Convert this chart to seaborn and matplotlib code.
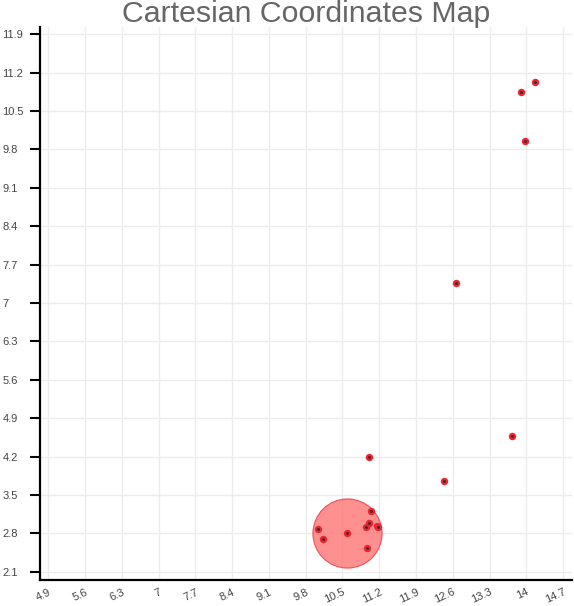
import matplotlib
matplotlib.use("Agg")
import matplotlib.pyplot as plt
import seaborn as sns
import pandas as pd

# points
xs = [14.17, 13.90, 13.98, 12.66, 11.00, 12.43, 13.72,
      11.05, 10.03, 10.12, 10.58, 10.94, 11.01, 11.15, 11.18, 10.97]
ys = [11.03, 10.85, 9.96, 7.37, 4.20, 3.76, 4.58,
      3.21, 2.88, 2.70, 2.81, 2.92, 2.98, 2.93, 2.91, 2.54]

# highlighted cluster centre
cluster_x = [10.58]
cluster_y = [2.81]

x_ticks = [4.9, 5.6, 6.3, 7.0, 7.7, 8.4, 9.1, 9.8, 10.5, 11.2, 11.9, 12.6, 13.3, 14.0, 14.7]
x_labels = ["4.9", "5.6", "6.3", "7", "7.7", "8.4", "9.1", "9.8", "10.5",
            "11.2", "11.9", "12.6", "13.3", "14", "14.7"]
y_ticks = [2.1, 2.8, 3.5, 4.2, 4.9, 5.6, 6.3, 7.0, 7.7, 8.4, 9.1, 9.8, 10.5, 11.2, 11.9]
y_labels = ["2.1", "2.8", "3.5", "4.2", "4.9", "5.6", "6.3", "7", "7.7",
            "8.4", "9.1", "9.8", "10.5", "11.2", "11.9"]

sns.set_style("white")
plt.rcParams['font.family'] = ['Liberation Sans', 'DejaVu Sans']

df = pd.DataFrame({'x': xs, 'y': ys})
df_c = pd.DataFrame({'x': cluster_x, 'y': cluster_y})

fig = plt.figure(figsize=(5.74, 6.06), dpi=100)
ax = fig.add_axes([40 / 574, 1 - 580 / 606, 532 / 574, 553 / 606])

# big cluster circle
sns.scatterplot(data=df_c, x='x', y='y', s=2480, color=(1.0, 0.42, 0.42),
                alpha=0.75, edgecolor='#e0303a', linewidth=0.8, ax=ax, zorder=2)

# points
sns.scatterplot(data=df, x='x', y='y', s=14, color='#43282a',
                edgecolor='#ee2530', linewidth=1.6, ax=ax, zorder=3)

ax.set_xlim(4.74, 14.87)
ax.set_ylim(1.95, 12.03)

ax.set_xticks(x_ticks)
ax.set_xticklabels(x_labels, rotation=25, ha='right', va='top',
                   rotation_mode='anchor', fontsize=8, color='#444444')
ax.set_yticks(y_ticks)
ax.set_yticklabels(y_labels, ha='left', fontsize=8, color='#444444')

ax.tick_params(axis='x', length=0, pad=5)
ax.tick_params(axis='y', length=7, width=1.5, color='black', pad=20, left=True)

ax.grid(True, color='#ececec', linewidth=1)
ax.set_axisbelow(True)

for side in ['top', 'right']:
    ax.spines[side].set_visible(False)
for side in ['left', 'bottom']:
    ax.spines[side].set_color('black')
    ax.spines[side].set_linewidth(1.6)

ax.set_xlabel('')
ax.set_ylabel('')
ax.set_title('Cartesian Coordinates Map', fontsize=21.8, color='#666666', pad=3.5)

fig.savefig('out.png', dpi=100)
